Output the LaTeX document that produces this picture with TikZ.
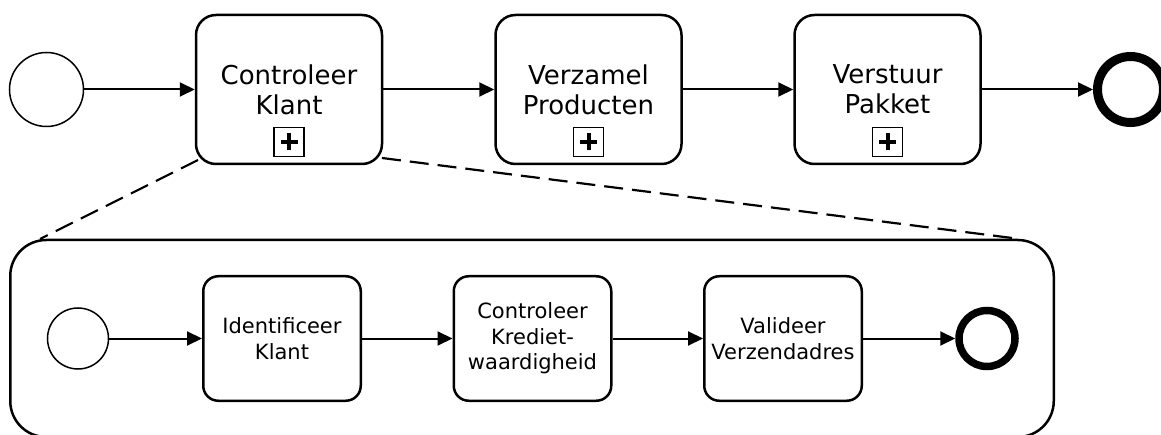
\documentclass[tikz,border=0pt]{standalone}
\usepackage{fontspec}
\setmainfont{DejaVu Sans}
\usetikzlibrary{arrows.meta}
\begin{document}
\begin{tikzpicture}[x=1pt,y=-1pt,
  bigtask/.style={draw,line width=2.5pt,rounded corners=20pt,minimum width=186pt,minimum height=149pt,inner sep=0pt,align=center,font=\fontsize{26}{30}\selectfont},
  smalltask/.style={draw,line width=2.5pt,rounded corners=15pt,minimum width=157.5pt,minimum height=124.5pt,inner sep=0pt,align=center,font=\fontsize{21}{25.5}\selectfont},
  startev/.style={draw,circle,line width=1.5pt,inner sep=0pt},
  endev/.style={draw,circle,inner sep=0pt},
  flow/.style={line width=2pt,-{Triangle[length=15pt,width=14pt]}},
  marker/.style={draw,line width=1.5pt,minimum width=30pt,minimum height=29pt,inner sep=0pt},
  plusbar/.style={line width=4pt},
  zoomline/.style={line width=2.2pt,dash pattern=on 19pt off 9pt},
  container/.style={draw,line width=2.5pt,rounded corners=36pt,minimum width=1043.5pt,minimum height=197pt,inner sep=0pt}]
\fill[white] (0,0) rectangle (1161,435);
\useasboundingbox (0,0) rectangle (1161,435);

% top level
\node[startev,minimum size=74pt] (s1) at (46.5,89.5) {};
\node[bigtask] (t1) at (289,89.5) {Controleer\\Klant};
\node[bigtask] (t2) at (588.5,89.5) {Verzamel\\Producten};
\node[bigtask] (t3) at (887.5,89.5) {Verstuur\\Pakket};
\node[endev,line width=9pt,minimum size=66pt] (e1) at (1130.5,89.5) {};

\foreach \t/\x in {m1/289,m2/588.5,m3/887.5}{
  \node[marker] (\t) at (\x,142) {};
  \draw[plusbar] ([xshift=-8.5pt]\t.center) -- ([xshift=8.5pt]\t.center);
  \draw[plusbar] ([yshift=-8.5pt]\t.center) -- ([yshift=8.5pt]\t.center);
}

\draw[flow] (s1) -- (t1);
\draw[flow] (t1) -- (t2);
\draw[flow] (t2) -- (t3);
\draw[flow] (t3) -- (e1);

% expanded sub-process
\node[container] (sub) at (532,338.5) {};
\coordinate (zl1) at (198,160);
\coordinate (zl2) at (40,239);
\coordinate (zr1) at (382,158);
\coordinate (zr2) at (1020,239);
\draw[zoomline] (zl1) -- (zl2);
\draw[zoomline] (zr1) -- (zr2);

\node[startev,minimum size=61pt] (s2) at (78,338.5) {};
\node[smalltask] (b1) at (282,338.5) {Identificeer\\Klant};
\node[smalltask] (b2) at (532.5,338.5) {Controleer\\Krediet-\\waardigheid};
\node[smalltask] (b3) at (783,338.5) {Valideer\\Verzendadres};
\node[endev,line width=7.5pt,minimum size=56pt] (e2) at (987,338.5) {};

\draw[flow] (s2) -- (b1);
\draw[flow] (b1) -- (b2);
\draw[flow] (b2) -- (b3);
\draw[flow] (b3) -- (e2);
\end{tikzpicture}
\end{document}
